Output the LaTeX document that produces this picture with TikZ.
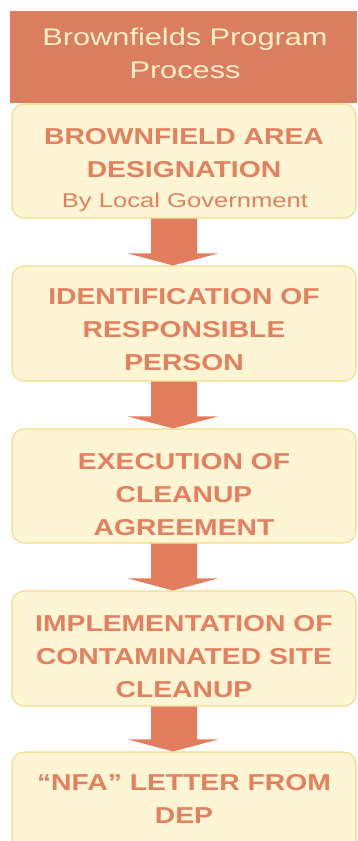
\documentclass[tikz,border=0pt]{standalone}
\usepackage{fontspec}
\usetikzlibrary{calc}
\newfontfamily\flowfont{Liberation Sans}[FakeStretch=1.28]
\newfontfamily\stagefont{Liberation Sans}[FakeStretch=1.23]
\definecolor{headfill}{HTML}{DB7E60}
\definecolor{headtext}{HTML}{FBF0C8}
\definecolor{boxfill}{HTML}{FDF5D3}
\definecolor{boxline}{HTML}{F0DC86}
\definecolor{boxtext}{HTML}{E3805F}
\definecolor{arrowfill}{HTML}{E27E5E}
\tikzset{
  headbox/.style={fill=headfill, draw=none, minimum width=347pt, minimum height=92pt, inner sep=0pt},
  stagebox/.style={fill=boxfill, draw=boxline, line width=1.1pt, rounded corners=12pt, minimum width=344pt, inner sep=0pt},
  headlabel/.style={anchor=base, align=center, text=headtext, font=\flowfont\fontsize{24}{33}\selectfont, inner sep=0pt},
  stagelabel/.style={anchor=base, align=center, text=boxtext, font=\stagefont\bfseries\fontsize{23}{33}\selectfont, inner sep=0pt},
  sublabel/.style={anchor=base, align=center, text=boxtext, font=\flowfont\fontsize{20}{30}\selectfont, inner sep=0pt},
  arr/.style={fill=arrowfill, draw=none}
}
\newcommand{\flowarrow}[2]{%
  \fill[arr] ($(#1.south)+(-33pt,0)$) -- ($(#2.north)+(-33pt,12pt)$) -- ($(#2.north)+(-56pt,12pt)$) --
    ($(#2.north)+(-11pt,0)$) -- ($(#2.north)+(34pt,12pt)$) -- ($(#2.north)+(13pt,12pt)$) --
    ($(#1.south)+(13pt,0)$) -- cycle;}
\begin{document}
\begin{tikzpicture}[x=1pt,y=-1pt]
  \fill[white] (0,0) rectangle (357,841);
  \useasboundingbox (0,0) rectangle (357,841);
  \clip (0,0) rectangle (357,841);
  % boxes
  \node[headbox] (h) at (183.5,57) {};
  \node[stagebox, minimum height=114pt] (b1) at (184,161) {};
  \node[stagebox, minimum height=115pt] (b2) at (184,323.5) {};
  \node[stagebox, minimum height=114pt] (b3) at (184,486) {};
  \node[stagebox, minimum height=115pt] (b4) at (184,648.5) {};
  \node[stagebox, minimum height=120pt] (b5) at (184,812) {};
  % arrows
  \flowarrow{b1}{b2}
  \flowarrow{b2}{b3}
  \flowarrow{b3}{b4}
  \flowarrow{b4}{b5}
  % texts (anchor=base is the baseline of the last line)
  \node[headlabel] (ht) at (185,78) {Brownfields Program\\Process};
  \node[stagelabel] (t1) at (184,177) {BROWNFIELD AREA\\DESIGNATION};
  \node[sublabel] (t1s) at (185,207) {By Local Government};
  \node[stagelabel] (t2) at (184,370) {IDENTIFICATION OF\\RESPONSIBLE\\PERSON};
  \node[stagelabel] (t3) at (184,535) {EXECUTION OF\\CLEANUP\\AGREEMENT};
  \node[stagelabel] (t4) at (184,697) {IMPLEMENTATION OF\\CONTAMINATED SITE\\CLEANUP};
  \node[stagelabel] (t5) at (184,823) {“NFA” LETTER FROM\\DEP};
\end{tikzpicture}
\end{document}
